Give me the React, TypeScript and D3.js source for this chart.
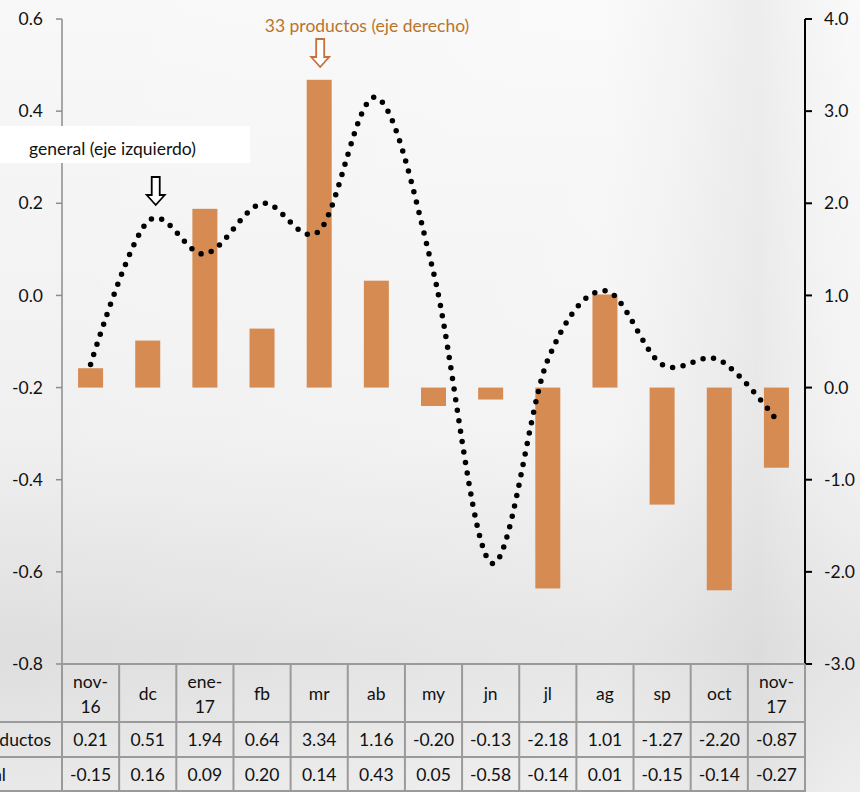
import { useEffect, useRef } from "react"
import * as d3 from "d3"

const months = ["nov-\n16", "dc", "ene-\n17", "fb", "mr", "ab", "my", "jn", "jl", "ag", "sp", "oct", "nov-\n17"]
const productos = [0.21, 0.51, 1.94, 0.64, 3.34, 1.16, -0.2, -0.13, -2.18, 1.01, -1.27, -2.2, -0.87]
const general = [-0.15, 0.16, 0.09, 0.2, 0.14, 0.43, 0.05, -0.58, -0.14, 0.01, -0.15, -0.14, -0.27]
const leftTicks = [0.6, 0.4, 0.2, 0.0, -0.2, -0.4, -0.6, -0.8]
const rightTicks = [4.0, 3.0, 2.0, 1.0, 0.0, -1.0, -2.0, -3.0]

const W = 860
const H = 792
const FONT = "Lato, 'Open Sans', sans-serif"

const App = () => {
  const svgRef = useRef<SVGSVGElement>(null)

  useEffect(() => {
    if (!svgRef.current) return
    const svg = d3.select(svgRef.current)
    svg.selectAll("*").remove()

    const left = 62
    const right = 805
    const top = 19
    const bottom = 664

    // background
    const defs = svg.append("defs")
    const grad = defs.append("linearGradient").attr("id", "bg").attr("x1", 0).attr("y1", 0).attr("x2", 0).attr("y2", 1)
    grad.append("stop").attr("offset", "0%").attr("stop-color", "#f8f8f8")
    grad.append("stop").attr("offset", "55%").attr("stop-color", "#f0f0f0")
    grad.append("stop").attr("offset", "82%").attr("stop-color", "#dedede")
    grad.append("stop").attr("offset", "100%").attr("stop-color", "#e9e9e9")
    const gradH = defs.append("linearGradient").attr("id", "bgh").attr("x1", 0).attr("y1", 0).attr("x2", 1).attr("y2", 0)
    gradH.append("stop").attr("offset", "0%").attr("stop-color", "#ffffff").attr("stop-opacity", 0)
    gradH.append("stop").attr("offset", "70%").attr("stop-color", "#ffffff").attr("stop-opacity", 0.25)
    gradH.append("stop").attr("offset", "88%").attr("stop-color", "#d8d8d8").attr("stop-opacity", 0.35)
    gradH.append("stop").attr("offset", "100%").attr("stop-color", "#ffffff").attr("stop-opacity", 0.2)
    svg.append("rect").attr("width", W).attr("height", H).attr("fill", "url(#bg)")
    svg.append("rect").attr("width", W).attr("height", H).attr("fill", "url(#bgh)")

    const x = d3.scaleBand<number>().domain(d3.range(months.length)).range([left, right])
    const yL = d3.scaleLinear().domain([-0.8, 0.6]).range([bottom, top])
    const yR = d3.scaleLinear().domain([-3, 4]).range([bottom, top])

    // bars (right axis)
    const barW = 25
    svg
      .append("g")
      .selectAll("rect")
      .data(productos)
      .join("rect")
      .attr("x", (_, i) => x(i)! + x.bandwidth() / 2 - barW / 2)
      .attr("y", (d) => yR(Math.max(0, d)))
      .attr("width", barW)
      .attr("height", (d) => Math.abs(yR(d) - yR(0)))
      .attr("fill", "#d68b52")

    // dotted smoothed line (left axis)
    const line = d3
      .line<number>()
      .x((_, i) => x(i)! + x.bandwidth() / 2)
      .y((d) => yL(d))
      .curve(d3.curveCardinal.tension(0))
    svg
      .append("path")
      .attr("d", line(general))
      .attr("fill", "none")
      .attr("stroke", "#000")
      .attr("stroke-width", 5.5)
      .attr("stroke-linecap", "round")
      .attr("stroke-dasharray", "0 10.6")

    // left axis
    const gL = svg.append("g").attr("transform", `translate(${left},0)`)
    gL.append("line").attr("y1", top).attr("y2", bottom).attr("stroke", "#8c8c8c").attr("stroke-width", 1.5)
    gL.selectAll("g.t")
      .data(leftTicks)
      .join("g")
      .attr("class", "t")
      .attr("transform", (d) => `translate(0,${yL(d)})`)
      .each(function (d) {
        const g = d3.select(this)
        g.append("line").attr("x1", -6).attr("x2", 0).attr("stroke", "#8c8c8c").attr("stroke-width", 1.5)
        g.append("text")
          .attr("x", -19)
          .attr("dy", "0.35em")
          .attr("text-anchor", "end")
          .attr("font-size", 17.5)
          .attr("font-family", FONT)
          .attr("fill", "#111")
          .text(d.toFixed(1))
      })

    // right axis
    const gR = svg.append("g").attr("transform", `translate(${right},0)`)
    gR.append("line").attr("y1", top).attr("y2", bottom).attr("stroke", "#000").attr("stroke-width", 2)
    gR.selectAll("g.t")
      .data(rightTicks)
      .join("g")
      .attr("class", "t")
      .attr("transform", (d) => `translate(0,${yR(d)})`)
      .each(function (d) {
        const g = d3.select(this)
        g.append("line").attr("x1", 0).attr("x2", 7).attr("stroke", "#000").attr("stroke-width", 2)
        g.append("text")
          .attr("x", 19)
          .attr("dy", "0.35em")
          .attr("text-anchor", "start")
          .attr("font-size", 17.5)
          .attr("font-family", FONT)
          .attr("fill", "#111")
          .text(d.toFixed(1))
      })

    // data table
    const rows = [bottom, 722, 757, 792]
    const tb = svg.append("g")
    const border = "#9a9a9a"
    tb.append("line").attr("x1", left).attr("x2", right).attr("y1", bottom).attr("y2", bottom).attr("stroke", border).attr("stroke-width", 2)
    ;[rows[1], rows[2], rows[3] - 1].forEach((yy) => {
      tb.append("line").attr("x1", 0).attr("x2", right).attr("y1", yy).attr("y2", yy).attr("stroke", border).attr("stroke-width", 2)
    })
    d3.range(months.length + 1).forEach((i) => {
      const xx = i < months.length ? x(i)! : right
      tb.append("line").attr("x1", xx).attr("x2", xx).attr("y1", bottom).attr("y2", H).attr("stroke", border).attr("stroke-width", 2)
    })

    const cx = (i: number) => x(i)! + x.bandwidth() / 2
    months.forEach((m, i) => {
      const parts = m.split("\n")
      const t = tb
        .append("text")
        .attr("text-anchor", "middle")
        .attr("font-size", 17.5)
        .attr("font-family", FONT)
        .attr("fill", "#111")
      if (parts.length === 1) {
        t.append("tspan").attr("x", cx(i)).attr("y", 700).text(parts[0])
      } else {
        t.append("tspan").attr("x", cx(i)).attr("y", 688).text(parts[0])
        t.append("tspan").attr("x", cx(i)).attr("y", 713).text(parts[1])
      }
    })
    const valRow = (vals: number[], yy: number) => {
      tb.selectAll(null)
        .data(vals)
        .join("text")
        .attr("x", (_, i) => cx(i))
        .attr("y", yy)
        .attr("text-anchor", "middle")
        .attr("font-size", 17.5)
        .attr("font-family", FONT)
        .attr("fill", "#111")
        .text((d) => d.toFixed(2))
    }
    valRow(productos, 746)
    valRow(general, 781)
    tb.append("text").attr("x", 51).attr("y", 746).attr("text-anchor", "end").attr("font-size", 17.5).attr("font-family", FONT).attr("fill", "#111").text("33 productos")
    tb.append("text").attr("x", 6).attr("y", 781).attr("text-anchor", "end").attr("font-size", 17.5).attr("font-family", FONT).attr("fill", "#111").text("general")

    // annotations
    svg.append("rect").attr("x", 0).attr("y", 126).attr("width", 250).attr("height", 37).attr("fill", "#fff")
    svg.append("text")
      .attr("x", 29)
      .attr("y", 155)
      .attr("font-size", 17.5)
      .attr("font-family", FONT)
      .attr("fill", "#111")
      .text("general (eje izquierdo)")
    svg.append("text")
      .attr("x", 367)
      .attr("y", 32)
      .attr("text-anchor", "middle")
      .attr("font-size", 17.5)
      .attr("font-family", FONT)
      .attr("fill", "#b8742c")
      .text("33 productos (eje derecho)")

    const arrow = (ax: number, ay: number, color: string) => {
      const p = d3.path()
      p.moveTo(ax - 4, ay)
      p.lineTo(ax + 4, ay)
      p.lineTo(ax + 4, ay + 18)
      p.lineTo(ax + 9, ay + 18)
      p.lineTo(ax, ay + 28)
      p.lineTo(ax - 9, ay + 18)
      p.lineTo(ax - 4, ay + 18)
      p.closePath()
      svg.append("path").attr("d", p.toString()).attr("fill", "#fff").attr("stroke", color).attr("stroke-width", 1.8)
    }
    arrow(cx(1) + 8, 177, "#000")
    arrow(cx(4) + 1, 39, "#c8703a")
  }, [])

  return (
    <div style={{ position: "absolute", left: 0, top: 0 }}>
      <svg ref={svgRef} width={W} height={H} style={{ display: "block" }} />
    </div>
  )
}

export default App
